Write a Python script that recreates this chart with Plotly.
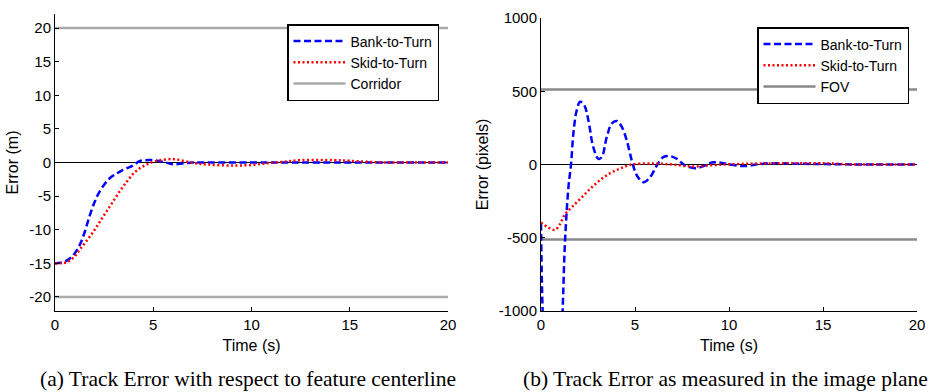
import plotly.graph_objects as go

# ---- Data: (a) track error w.r.t. feature centerline (m)
t_btt_a = [0, 0.3, 0.6, 0.9, 1.2, 1.4, 1.6, 1.8, 2.0, 2.2, 2.5, 2.8, 3.1, 3.4, 3.7, 4.0, 4.3, 4.6, 5.0, 5.5, 6.0, 6.5, 7.0, 8.0, 10.0, 12.0, 15.0, 20.0]
e_btt_a = [-15, -14.9, -14.6, -13.9, -12.6, -11.3, -9.5, -7.6, -6.0, -4.7, -3.3, -2.3, -1.7, -1.2, -0.8, -0.4, 0.2, 0.35, 0.35, 0.1, -0.25, -0.15, 0.0, 0.0, 0.0, 0.0, 0.0, 0.0]

t_stt_a = [0, 0.3, 0.63, 1.0, 1.3, 1.65, 2.0, 2.33, 2.66, 3.0, 3.34, 3.67, 4.0, 4.35, 4.7, 5.2, 6.05, 6.9, 7.75, 9.1, 10.1, 10.8, 11.6, 12.5, 14.2, 15.0, 16.7, 18.0, 20.0]
e_stt_a = [-15, -15.0, -14.8, -14.0, -12.8, -11.5, -10.1, -8.6, -7.1, -5.6, -4.1, -2.8, -1.6, -0.8, -0.25, 0.25, 0.5, 0.0, -0.3, -0.45, -0.35, -0.1, 0.1, 0.35, 0.35, 0.25, 0.0, 0.0, 0.0]

corridor_a = [20, -20]

# ---- Data: (b) track error in image plane (pixels)
t_btt_b = [0, 0.05, 0.1, 0.3, 0.6, 0.9, 1.1, 1.15, 1.28, 1.46, 1.6, 1.72, 1.9, 2.08, 2.3, 2.52, 2.78, 3.05, 3.23, 3.5, 3.76, 4.03, 4.3, 4.56, 4.83, 5.1, 5.45, 5.8, 6.16, 6.5, 6.87, 7.22, 7.67, 8.2, 8.64, 9.09, 9.62, 10.15, 10.86, 11.57, 12.28, 13.7, 15.5, 17.0, 20.0]
e_btt_b = [-400, -820, -1050, -1700, -2000, -1700, -1150, -1000, -517, -155, 5, 210, 370, 428, 405, 302, 119, 39, 50, 188, 279, 297, 256, 165, 27, -75, -121, -87, -7, 50, 57, 39, -7, -25, -11, 14, 11, -2, -11, 2, 9, 5, 2, 0, 0]

t_stt_b = [0, 0.39, 0.75, 1.01, 1.28, 1.63, 2.17, 2.7, 3.23, 3.76, 4.3, 4.83, 5.9, 6.96, 8.0, 9.1, 10.15, 11.9, 13.7, 15.5, 16.4, 18.0, 20.0]
e_stt_b = [-396, -430, -446, -407, -339, -293, -224, -156, -98, -53, -23, 0, 7, 0, -14, -5, 2, 7, 9, 7, 0, 0, 0]

fov_b = [512, -512]

x_range = [0, 20]
x_ticks = [0, 5, 10, 15, 20]
y_ticks_a = [-20, -15, -10, -5, 0, 5, 10, 15, 20]
y_ticks_b = [-1000, -500, 0, 500, 1000]

captions = ["(a) Track Error with respect to feature centerline",
            "(b) Track Error as measured in the image plane"]

W, H = 931, 392
SANS = "Liberation Sans, Arial, sans-serif"
SERIF = "Liberation Serif, Times New Roman, serif"
BLUE = "#0000ff"
RED = "#ff0000"

fig = go.Figure()

# Corridor (a)
for i, c in enumerate(corridor_a):
    fig.add_trace(go.Scatter(x=x_range, y=[c, c], mode="lines",
                             line=dict(color="#aaaaaa", width=2.5),
                             name="Corridor", showlegend=(i == 0),
                             legend="legend", xaxis="x", yaxis="y", legendrank=3))
fig.add_trace(go.Scatter(x=t_btt_a, y=e_btt_a, mode="lines", line_shape="spline",
                         line=dict(color=BLUE, width=2.5, dash="7px,3.5px"),
                         name="Bank-to-Turn", legend="legend", xaxis="x", yaxis="y", legendrank=1))
fig.add_trace(go.Scatter(x=t_stt_a, y=e_stt_a, mode="lines", line_shape="spline",
                         line=dict(color=RED, width=2.5, dash="2px,2.5px"),
                         name="Skid-to-Turn", legend="legend", xaxis="x", yaxis="y", legendrank=2))

# FOV (b)
for i, c in enumerate(fov_b):
    fig.add_trace(go.Scatter(x=x_range, y=[c, c], mode="lines",
                             line=dict(color="#888888", width=2.5),
                             name="FOV", showlegend=(i == 0),
                             legend="legend2", xaxis="x2", yaxis="y2", legendrank=3))
fig.add_trace(go.Scatter(x=t_btt_b, y=e_btt_b, mode="lines", line_shape="spline",
                         line=dict(color=BLUE, width=2.5, dash="7px,3.5px"),
                         name="Bank-to-Turn", legend="legend2", xaxis="x2", yaxis="y2", legendrank=1))
fig.add_trace(go.Scatter(x=t_stt_b, y=e_stt_b, mode="lines", line_shape="spline",
                         line=dict(color=RED, width=2.5, dash="2px,2.5px"),
                         name="Skid-to-Turn", legend="legend2", xaxis="x2", yaxis="y2", legendrank=2))

axis_common = dict(showline=True, linecolor="black", linewidth=1, ticks="inside",
                   ticklen=4, tickcolor="black", showgrid=False, mirror=False,
                   tickfont=dict(family=SANS, size=15, color="black"),
                   zeroline=False, automargin=False)

xa = dict(axis_common, range=x_range, tickvals=x_ticks, ticktext=[str(v) for v in x_ticks],
          title=dict(text="Time (s)", font=dict(family=SANS, size=16, color="black"), standoff=7))

legend_common = dict(xanchor="left", yanchor="top", bgcolor="white", bordercolor="black",
                     borderwidth=1.5, font=dict(family=SANS, size=14, color="black"),
                     tracegroupgap=0, itemwidth=52)

fig.update_layout(
    width=W, height=H,
    margin=dict(l=0, r=0, t=0, b=0, autoexpand=False),
    paper_bgcolor="white", plot_bgcolor="white",
    xaxis=dict(xa, domain=[55 / W, 448 / W], anchor="y"),
    yaxis=dict(axis_common, domain=[1 - 311 / H, 1 - 14 / H], range=[-22.1, 22.1],
               tickvals=y_ticks_a, ticktext=[str(v) for v in y_ticks_a], anchor="x",
               zeroline=True, zerolinecolor="black", zerolinewidth=1,
               title=dict(text="Error (m)", font=dict(family=SANS, size=16, color="black"), standoff=6)),
    xaxis2=dict(xa, domain=[541 / W, 917 / W], anchor="y2"),
    yaxis2=dict(axis_common, domain=[1 - 311 / H, 1 - 18 / H], range=[-1000, 1000],
                tickvals=y_ticks_b, ticktext=[str(v) for v in y_ticks_b], anchor="x2",
                zeroline=True, zerolinecolor="black", zerolinewidth=1,
                title=dict(text="Error (pixels)", font=dict(family=SANS, size=16, color="black"), standoff=6)),
    legend=dict(legend_common, x=287 / W, y=1 - 24 / H),
    legend2=dict(legend_common, x=757 / W, y=1 - 27 / H),
    annotations=[
        dict(text=captions[0], x=248 / W, y=1 - 379 / H, xref="paper", yref="paper",
             xanchor="center", yanchor="middle",
             showarrow=False, font=dict(family=SERIF, size=21.5, color="black")),
        dict(text=captions[1], x=725 / W, y=1 - 379 / H, xref="paper", yref="paper",
             xanchor="center", yanchor="middle",
             showarrow=False, font=dict(family=SERIF, size=21.5, color="black")),
    ],
)

fig.write_html("out.html")
